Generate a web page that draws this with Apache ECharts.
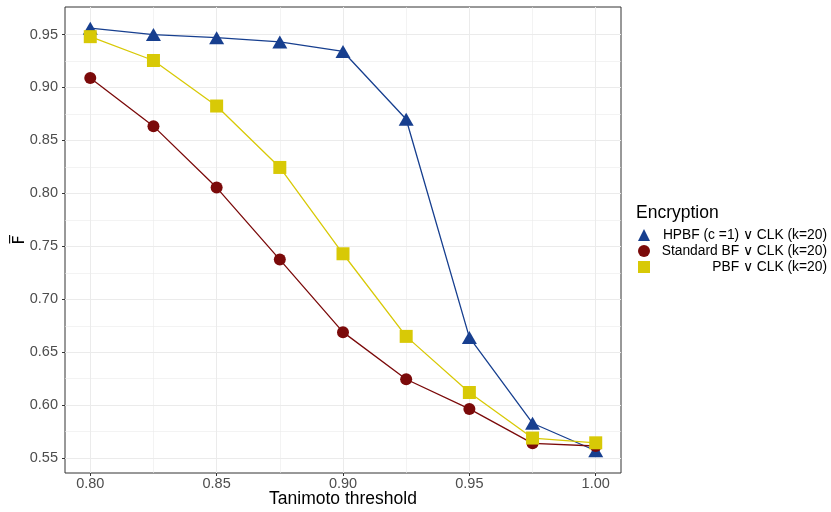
<!DOCTYPE html>
<html>
<head>
<meta charset="utf-8">
<script src="https://cdn.jsdelivr.net/npm/echarts@6/dist/echarts.min.js"></script>
<style>
html,body{margin:0;padding:0;background:#fff;}
#chart{width:831px;height:512px;}
</style>
</head>
<body>
<div id="chart"></div>
<script>
const thresholds = [0.800, 0.825, 0.850, 0.875, 0.900, 0.925, 0.950, 0.975, 1.000];
const hpbf = [0.956, 0.950, 0.947, 0.943, 0.934, 0.870, 0.664, 0.583, 0.557];
const standardBF = [0.909, 0.8635, 0.8055, 0.7375, 0.669, 0.6245, 0.5965, 0.564, 0.5615];
const pbf = [0.948, 0.9255, 0.8825, 0.8245, 0.743, 0.665, 0.612, 0.569, 0.5645];
const seriesNames = ['HPBF (c =1) \u2228 CLK (k=20)', 'Standard BF \u2228 CLK (k=20)', 'PBF \u2228 CLK (k=20)'];
const xTicks = [0.80, 0.85, 0.90, 0.95, 1.00];
const xMinor = [0.825, 0.875, 0.925, 0.975];
const yTicks = [0.55, 0.60, 0.65, 0.70, 0.75, 0.80, 0.85, 0.90, 0.95];
const yMinor = [0.575, 0.625, 0.675, 0.725, 0.775, 0.825, 0.875, 0.925];

const FONT = '"Liberation Sans", Arial, sans-serif';
const colors = ['#173f8f', '#7b0a0a', '#d8c906'];
const symbols = ['triangle', 'circle', 'rect'];
const symSizes = [[15, 13], 12, 13];

function pairs(ys) { return thresholds.map((x, i) => [x, ys[i]]); }

const chart = echarts.init(document.getElementById('chart'), null, {renderer: 'canvas'});
const gridStyle = {color: '#ebebeb', width: 1};
const minorStyle = {color: '#ebebeb', width: 0.6};
const option = {
  animation: false,
  backgroundColor: '#ffffff',
  textStyle: {fontFamily: FONT},
  title: {
    text: 'Encryption', left: 631, top: 199,
    textStyle: {fontFamily: FONT, fontSize: 17.5, fontWeight: 'normal', color: '#000'}
  },
  grid: {left: 65, right: 210, top: 7, bottom: 39, show: true, borderColor: '#333333', borderWidth: 1,
    backgroundColor: 'transparent', outerBoundsMode: 'none', containLabel: false},
  legend: {
    orient: 'vertical', left: 638, top: 228, itemGap: 2, padding: 0,
    itemWidth: 12, itemHeight: 12,
    data: seriesNames.map((n, i) => ({name: n, icon: symbols[i]})),
    formatter: n => '{a|' + n + '}',
    textStyle: {fontFamily: FONT, fontSize: 13.8, color: '#000',
      rich: {a: {width: 172, height: 14, lineHeight: 14, align: 'right', fontFamily: FONT, fontSize: 13.8, color: '#000'}}}
  },
  xAxis: [{
    type: 'value', min: 0.79, max: 1.01,
    name: 'Tanimoto threshold', nameLocation: 'middle', nameGap: 17, nameMoveOverlap: false,
    nameTextStyle: {fontFamily: FONT, fontSize: 17.5, color: '#000'},
    axisLine: {show: false},
    axisTick: {show: true, length: 3, lineStyle: {color: '#333'}, customValues: xTicks},
    axisLabel: {customValues: xTicks, formatter: v => v.toFixed(2), fontFamily: FONT, fontSize: 14.5, color: '#4d4d4d', margin: 3},
    splitLine: {show: true, lineStyle: gridStyle}
  }, {
    type: 'value', min: 0.79, max: 1.01, position: 'bottom',
    axisLine: {show: false},
    axisTick: {show: false, customValues: xMinor},
    axisLabel: {show: false, customValues: xMinor},
    splitLine: {show: true, lineStyle: minorStyle}
  }],
  yAxis: [{
    type: 'value', min: 0.536, max: 0.976,
    name: 'F\u0305', nameLocation: 'middle', nameGap: 37, nameRotate: 90, nameMoveOverlap: false,
    nameTextStyle: {fontFamily: '"DejaVu Sans", sans-serif', fontSize: 16, color: '#000'},
    axisLine: {show: false},
    axisTick: {show: true, length: 3, lineStyle: {color: '#333'}, customValues: yTicks},
    axisLabel: {customValues: yTicks, formatter: v => v.toFixed(2), fontFamily: FONT, fontSize: 14.5, color: '#4d4d4d', margin: 7},
    splitLine: {show: true, lineStyle: gridStyle}
  }, {
    type: 'value', min: 0.536, max: 0.976, position: 'left',
    axisLine: {show: false},
    axisTick: {show: false, customValues: yMinor},
    axisLabel: {show: false, customValues: yMinor},
    splitLine: {show: true, lineStyle: minorStyle}
  }],
  series: [hpbf, standardBF, pbf].map((ys, i) => ({
    name: seriesNames[i], type: 'line', data: pairs(ys),
    xAxisIndex: 0, yAxisIndex: 0,
    symbol: symbols[i], symbolSize: symSizes[i],
    itemStyle: {color: colors[i]},
    lineStyle: {color: colors[i], width: 1.3},
    z: 3 + i
  }))
};
chart.setOption(option);
</script>
</body>
</html>
